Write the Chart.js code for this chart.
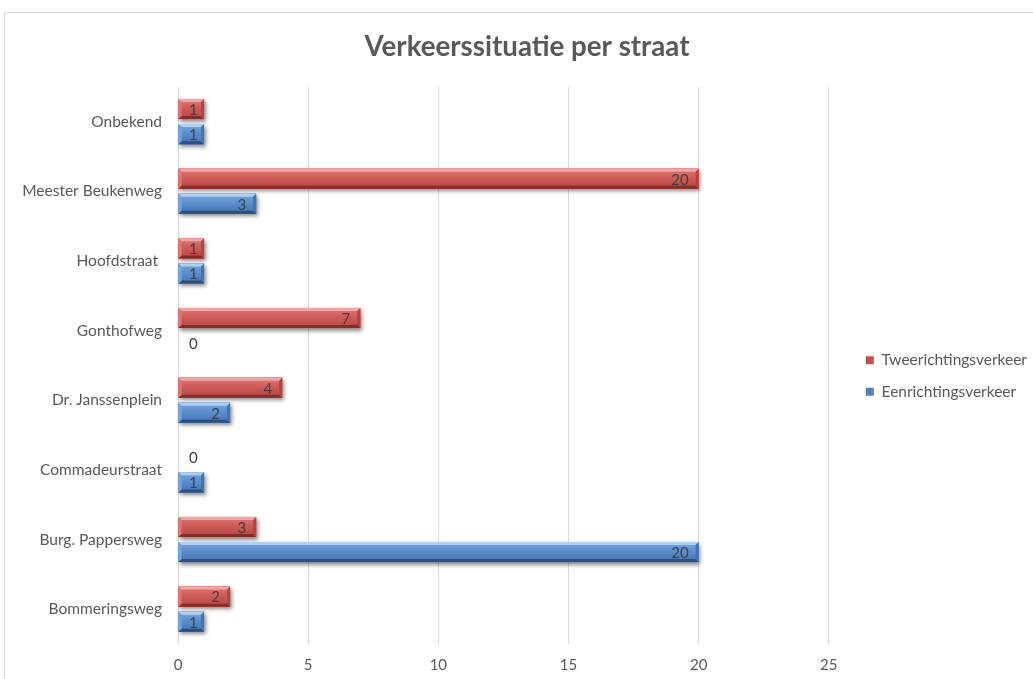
<!DOCTYPE html>
<html><head><meta charset="utf-8">
<script src="https://cdn.jsdelivr.net/npm/chart.js@4"></script>
<style>
html,body{margin:0;padding:0;background:#fff;overflow:hidden;width:1033px;height:679px}
#frame{position:absolute;left:4px;top:12px;width:1100px;height:720px;border:1px solid #D9D9D9;box-sizing:border-box}
#wrap{position:absolute;left:0;top:0;width:1033px;height:679px}
</style></head><body>
<div id="frame"></div>
<div id="wrap"><canvas id="c"></canvas></div>
<script>
const categories = ["Onbekend","Meester Beukenweg","Hoofdstraat ","Gonthofweg","Dr. Janssenplein","Commadeurstraat","Burg. Pappersweg","Bommeringsweg"];
const seriesNames = ["Tweerichtingsverkeer","Eenrichtingsverkeer"];
const tweeValues = [1,20,1,7,4,0,3,2];
const eenValues = [1,3,1,0,2,1,20,1];
const xTicks = [0,5,10,15,20,25];

const FONT = "Lato, 'Open Sans', sans-serif";
const palette = [
  {base:'#C0504D', mid:'#CC5955', light:'#F2A6A4', hi:'#E27774', lo:'#B5443F', dark:'#872C29'},
  {base:'#4F81BD', mid:'#5A8CCB', light:'#AED0F2', hi:'#74A6E0', lo:'#4373B0', dark:'#294F83'}
];

function barGeom(bar){
  const p = bar.getProps(['x','y','base','height'], true);
  const l = Math.min(p.base,p.x), r = Math.max(p.base,p.x);
  return {l, r, t: p.y - p.height/2, h: p.height, y: p.y, x: p.x, base: p.base};
}

const bevelPlugin = {
  id:'bevel',
  afterLayout(chart){
    const lg = chart.legend;
    if(lg){ lg.top += 33; lg.bottom += 33; lg.left += 21; lg.right += 21; }
    const tb = chart.titleBlock;
    if(tb){ tb.left += 10.5; tb.right += 10.5; }
  },
  beforeDatasetsDraw(chart){
    const ctx = chart.ctx;
    chart.data.datasets.forEach((ds,i)=>{
      const meta = chart.getDatasetMeta(i);
      meta.data.forEach((bar,j)=>{
        if(!ds.data[j]) return;
        const g = barGeom(bar);
        ctx.save();
        ctx.shadowColor='rgba(0,0,0,0.45)';
        ctx.shadowBlur=4; ctx.shadowOffsetX=1.5; ctx.shadowOffsetY=2.5;
        ctx.fillStyle=palette[i].base;
        ctx.fillRect(g.l,g.t,g.r-g.l,g.h);
        ctx.restore();
      });
    });
  },
  afterDatasetsDraw(chart){
    const ctx = chart.ctx;
    chart.data.datasets.forEach((ds,i)=>{
      const meta = chart.getDatasetMeta(i);
      const c = palette[i];
      meta.data.forEach((bar,j)=>{
        const v = ds.data[j];
        const g = barGeom(bar);
        if(v){
          const w = g.r-g.l, b = 3;
          const gr = ctx.createLinearGradient(0,g.t,0,g.t+g.h);
          gr.addColorStop(0,c.hi); gr.addColorStop(0.5,c.mid); gr.addColorStop(1,c.lo);
          ctx.fillStyle=gr; ctx.fillRect(g.l,g.t,w,g.h);
          ctx.fillStyle=c.light;
          ctx.beginPath(); ctx.moveTo(g.l,g.t); ctx.lineTo(g.r,g.t); ctx.lineTo(g.r-b,g.t+b); ctx.lineTo(g.l+b,g.t+b); ctx.closePath(); ctx.fill();
          ctx.fillStyle=c.dark;
          ctx.beginPath(); ctx.moveTo(g.l,g.t+g.h); ctx.lineTo(g.r,g.t+g.h); ctx.lineTo(g.r-b,g.t+g.h-b); ctx.lineTo(g.l+b,g.t+g.h-b); ctx.closePath(); ctx.fill();
          ctx.fillStyle=c.hi;
          ctx.beginPath(); ctx.moveTo(g.l,g.t); ctx.lineTo(g.l+b,g.t+b); ctx.lineTo(g.l+b,g.t+g.h-b); ctx.lineTo(g.l,g.t+g.h); ctx.closePath(); ctx.fill();
          ctx.fillStyle=c.lo;
          ctx.beginPath(); ctx.moveTo(g.r,g.t); ctx.lineTo(g.r-b,g.t+b); ctx.lineTo(g.r-b,g.t+g.h-b); ctx.lineTo(g.r,g.t+g.h); ctx.closePath(); ctx.fill();
        }
        ctx.save();
        ctx.font = "15px " + FONT;
        ctx.fillStyle = '#404040';
        ctx.textBaseline = 'middle';
        const txt = String(v);
        const tw = ctx.measureText(txt).width;
        if(!v){
          ctx.textAlign='left';
          ctx.fillText(txt, g.base + 11, g.y+1);
        } else if(g.r-g.l < tw + 20){
          ctx.textAlign='center';
          ctx.fillText(txt, g.l + (g.r-g.l)/2 + 2, g.y+1);
        } else {
          ctx.textAlign='right';
          ctx.fillText(txt, g.r - 10, g.y+1);
        }
        ctx.restore();
      });
    });
  }
};

new Chart(document.getElementById('c'), {
  type:'bar',
  data:{
    labels: categories,
    datasets:[
      {label: seriesNames[0], data: tweeValues, backgroundColor: palette[0].base, borderWidth:0, categoryPercentage:0.72, barPercentage:0.8},
      {label: seriesNames[1], data: eenValues, backgroundColor: palette[1].base, borderWidth:0, categoryPercentage:0.72, barPercentage:0.8}
    ]
  },
  options:{
    indexAxis:'y',
    responsive:true, maintainAspectRatio:false, animation:false,
    layout:{padding:{left:17,right:17,top:0,bottom:-7}},
    plugins:{
      title:{display:true,text:'Verkeerssituatie per straat',color:'#595959',
        font:{family:FONT,size:27.7,weight:'bold'},padding:{top:30.5,bottom:23}},
      legend:{position:'right',
        labels:{color:'#595959',font:{family:FONT,size:15.5},boxWidth:8,boxHeight:8,padding:16}},
      tooltip:{enabled:false}
    },
    scales:{
      x:{min:0,max:25,
        afterBuildTicks(s){ s.ticks = xTicks.map(v=>({value:v})); },
        grid:{color:'#D9D9D9',drawTicks:false},
        border:{display:false},
        ticks:{color:'#595959',font:{family:FONT,size:15},padding:12}
      },
      y:{
        afterFit(s){ s.width = 161; },
        grid:{display:false,drawTicks:false},
        border:{display:false},
        ticks:{color:'#595959',font:{family:FONT,size:15.5},padding:16}
      }
    }
  },
  plugins:[bevelPlugin]
});
</script>
</body></html>
